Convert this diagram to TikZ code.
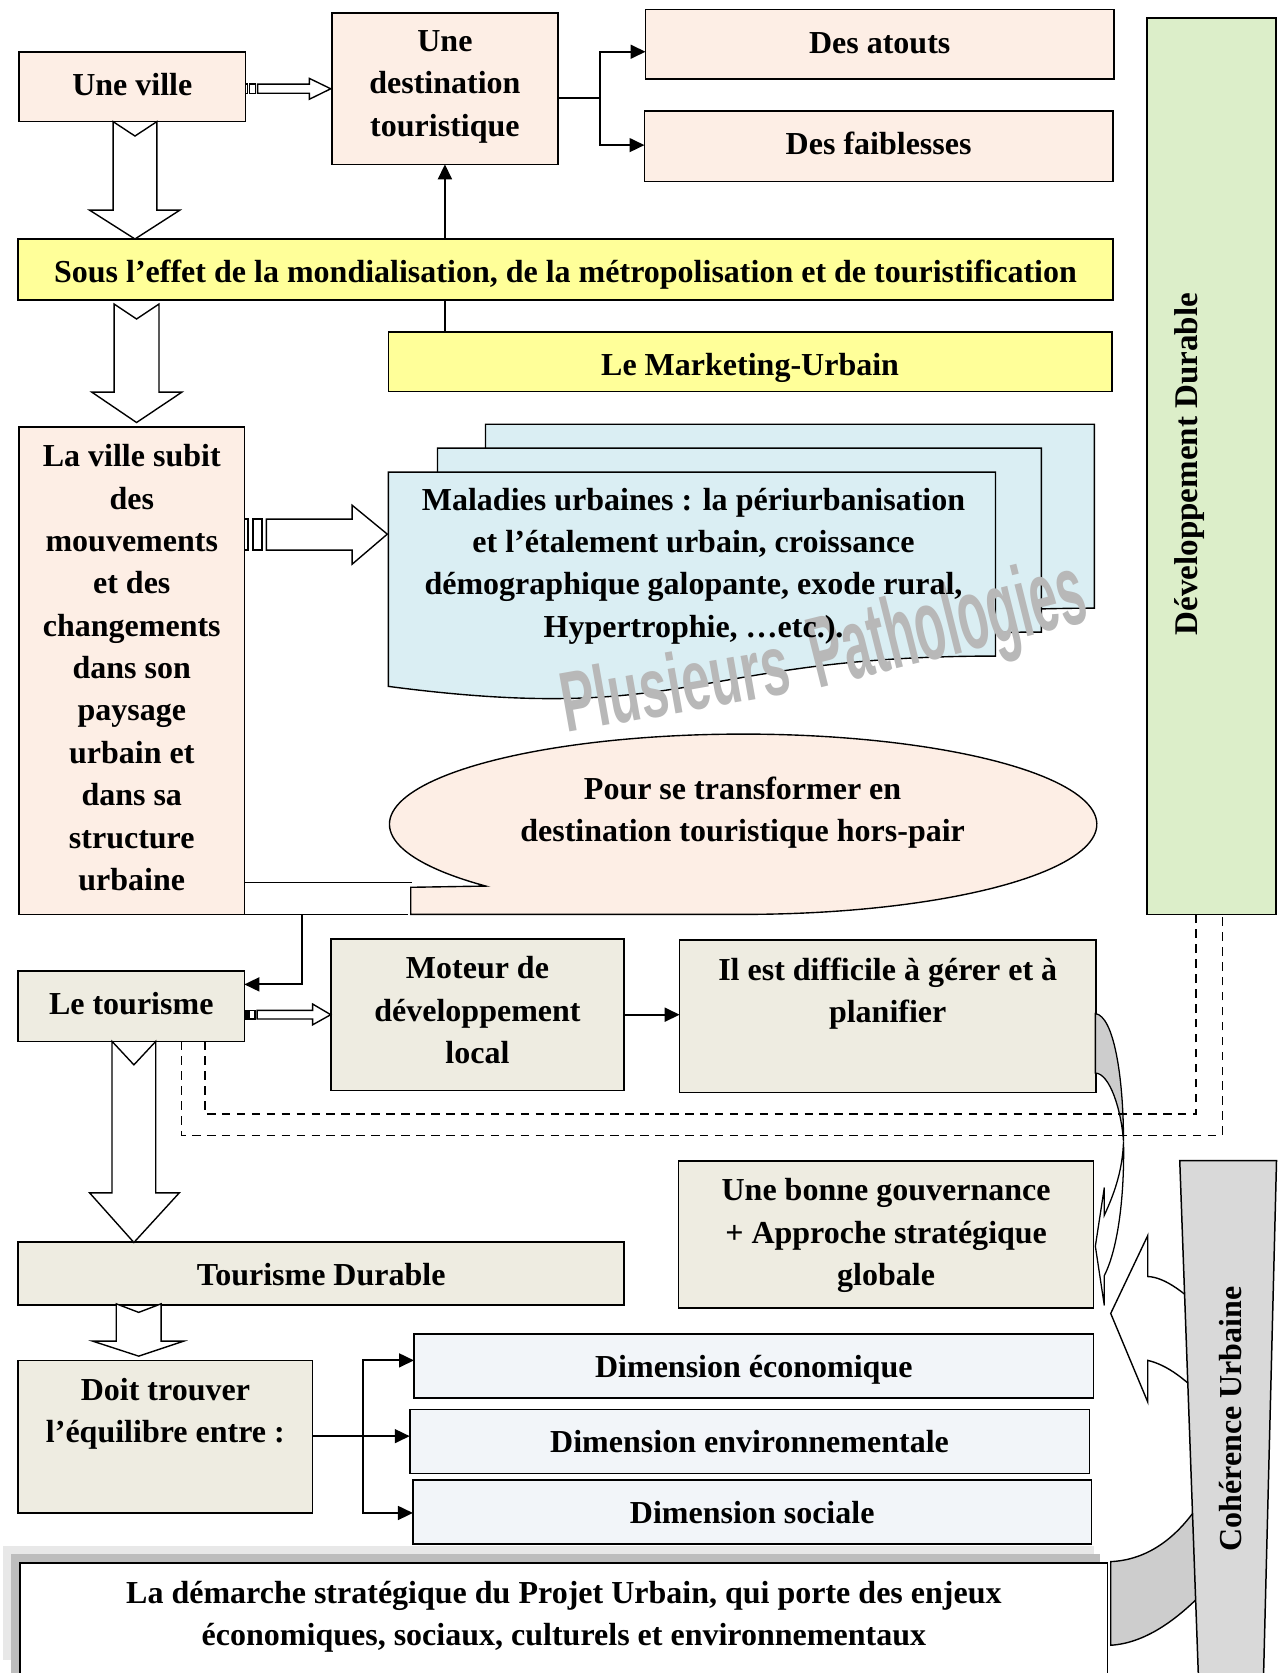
\documentclass[tikz,border=0pt]{standalone}
\usepackage{fontspec}
\setmainfont{Liberation Serif}
\newfontfamily\wmfont{Liberation Sans}
\usetikzlibrary{arrows.meta}

\definecolor{cPeach}{HTML}{FDEEE5}
\definecolor{cLemon}{HTML}{FFFF99}
\definecolor{cSage}{HTML}{DCEEC9}
\definecolor{cAqua}{HTML}{DAEEF3}
\definecolor{cTan}{HTML}{EEECE1}
\definecolor{cMist}{HTML}{F2F5F9}
\definecolor{cSilver}{HTML}{D9D9D9}
\definecolor{cShade}{HTML}{CDCDCD}

% hollow downward block arrow with a notched tail
% #1 shaft left, #2 shaft right, #3 tail top, #4 notch depth point, #5 head base,
% #6 head left, #7 head right, #8 tip, #9 axis
\newcommand\blockdown[9]{\draw[blk] (#1,#3) -- (#9,#4) -- (#2,#3) -- (#2,#5) -- (#7,#5) -- (#9,#8) -- (#6,#5) -- (#1,#5) -- cycle;}

\begin{document}
\begin{tikzpicture}[x=1pt, y=-1pt,
  font=\bfseries\fontsize{30}{39.7}\selectfont,
  box/.style={draw, line width=1.5pt, inner sep=0pt, outer sep=0pt},
  intxt/.style={anchor=north, inner sep=0pt, align=center, execute at begin node={\rule{0pt}{24pt}}},
  conn/.style={line width=1.8pt, -{Triangle[length=14pt,width=13pt]}},
  wire/.style={line width=1.8pt},
  blk/.style={draw, line width=1.3pt, fill=white},
  dline/.style={line width=1.3pt, dash pattern=on 8pt off 6pt},
  rot/.style={rotate=90, inner sep=0pt},
  wm/.style={inner sep=0pt, text=black!28, font=\wmfont\bfseries\fontsize{80}{80}\selectfont},
]
\useasboundingbox (0,0) rectangle (1202,1568);
\clip (0,0) rectangle (1202,1568);
\fill[white] (0,0) rectangle (1202,1568);

% ---- shadow behind the bottom box
\fill[black!9] (3,1449) rectangle (1025,1556);
\fill[black!26] (10,1456) rectangle (1031,1600);

% ---- large curved arrow coming out of the urban coherence band
\draw[line width=1.3pt, fill=cShade] (1041,1463.6) .. controls (1075,1462) and (1103,1442) .. (1125,1408)
  -- (1132,1488) .. controls (1102,1520) and (1072,1540) .. (1041,1542) -- cycle;
\draw[line width=1.3pt, fill=white] (1135,1236) .. controls (1112,1212) and (1092,1197) .. (1075.7,1196.4)
  -- (1075.7,1158) -- (1041,1231) -- (1075.7,1314) -- (1075.7,1275)
  .. controls (1093,1279) and (1112,1292) .. (1135,1318) -- cycle;
\draw[line width=1.4pt, fill=cSilver] (1105.7,1087.8) -- (1196.4,1087.8) -- (1184,1580) -- (1123.5,1580) -- cycle;
\node[rot] (coh) at (1153.5,1330) {Cohérence Urbaine};

% ---- boxes
\node[box, fill=cPeach, minimum width=212pt, minimum height=65pt] (ville) at (124,81.5) {};
\node[box, fill=cPeach, minimum width=212pt, minimum height=142pt] (dest) at (417,83) {};
\node[box, fill=cPeach, minimum width=439pt, minimum height=65pt] (atouts) at (824.5,41.5) {};
\node[box, fill=cPeach, minimum width=439pt, minimum height=66pt] (faibl) at (823.5,137) {};
\node[box, fill=cLemon, minimum width=1026pt, minimum height=57pt] (sous) at (530,252.5) {};
\node[box, fill=cLemon, minimum width=678pt, minimum height=56pt] (mkt) at (703,339) {};
\node[box, fill=cSage, minimum width=121pt, minimum height=840pt] (dd) at (1135.5,437) {};
\node[box, fill=cPeach, minimum width=211pt, minimum height=457pt] (lavil) at (123.5,628.5) {};
\node[box, fill=cTan, minimum width=212pt, minimum height=66pt] (tour) at (123,943) {};
\node[box, fill=cTan, minimum width=275pt, minimum height=142pt] (moteur) at (447.5,951) {};
\node[box, fill=cTan, minimum width=390pt, minimum height=143pt] (diff) at (832,952.5) {};
\node[box, fill=cTan, minimum width=389pt, minimum height=138pt] (gouv) at (830.5,1157) {};
\node[box, fill=cTan, minimum width=568pt, minimum height=59pt] (tdur) at (301,1193.5) {};
\node[box, fill=cTan, minimum width=276pt, minimum height=143pt] (doit) at (155,1346.5) {};
\node[box, fill=cMist, minimum width=637pt, minimum height=60pt] (deco) at (706.5,1280) {};
\node[box, fill=cMist, minimum width=637pt, minimum height=60pt] (denv) at (702.5,1351) {};
\node[box, fill=cMist, minimum width=636pt, minimum height=60pt] (dsoc) at (705,1417) {};
\node[box, fill=white, minimum width=1019pt, minimum height=135pt] (dem) at (528.5,1532.5) {};

% ---- stack of documents
\draw[line width=1.3pt, fill=cAqua] (455,397.6) -- (1025.7,397.6) -- (1025.7,570)
  .. controls (740.4,570) and (740.4,635.7) .. (455,598.4) -- cycle;
\draw[line width=1.3pt, fill=cAqua] (410,420) -- (976,420) -- (976,592.4)
  .. controls (693,592.4) and (693,658.1) .. (410,620.8) -- cycle;
\draw[line width=1.3pt, fill=cAqua] (364,442.5) -- (933,442.5) -- (933,614.9)
  .. controls (648.5,614.9) and (648.5,680.6) .. (364,643.3) -- cycle;
\node[wm, rotate=10] (wm1) at (632,640) {\scalebox{0.6}[1]{Plusieurs}};
\node[wm, rotate=14] (wm2) at (889,590) {\scalebox{0.58}[1.18]{Pathologies}};

% ---- speech bubble
\draw[line width=1.3pt, fill=cPeach] plot[domain=136.7:450, samples=160, variable=\t]
  ({696.5+331.5*cos(\t)},{772.5+84.5*sin(\t)}) -- (385,857) -- (385,831.6) -- cycle;
\coordinate (tipB) at (382,857);
\coordinate (tipT) at (386,827);

% ---- curved arrow from the management box to the governance box
\draw[line width=1.2pt, fill=cShade] (1026.6,950) .. controls (1044,952) and (1053,1010) .. (1053,1070)
  .. controls (1051,1040) and (1040,1006) .. (1026.6,1005.7) -- cycle;
\draw[line width=1.2pt, fill=white] (1053,1070) .. controls (1054,1120) and (1048,1170) .. (1035,1195.5)
  -- (1035,1223.5) -- (1026.6,1168) -- (1035,1113) -- (1035,1139)
  .. controls (1046,1115) and (1052,1095) .. (1053,1070) -- cycle;

% ---- dashed links from tourism to sustainable development
\coordinate (tA) at (192,976);
\coordinate (tB) at (170,976);
\coordinate (dA) at (1121,857);
\coordinate (dB) at (1145.6,857);
\coordinate (yA) at (0,1044);
\coordinate (yB) at (0,1064);
\draw[dline] (tA) -- (tA |- yA) -- (dA |- yA) -- (dA);
\draw[dline] (tB) -- (tB |- yB) -- (dB |- yB) -- (dB);

% ---- solid connectors
\coordinate (j1) at (562,91.6);
\coordinate (aIn) at (605,48.5);
\coordinate (fIn) at (604,136);
\draw[wire] (dest.east |- j1) -- (j1);
\draw[conn] (j1) |- (aIn);
\draw[conn] (j1) |- (fIn);
\draw[conn] (sous.north -| dest.south) -- (dest.south);
\draw[wire] (mkt.north -| dest.south) -- (sous.south -| dest.south);

\draw[line width=1.5pt] (lavil.south east) -- (tipB);
\draw[line width=1.5pt] ([yshift=30pt]lavil.south east) -- (tipT);
\coordinate (elb) at (283,857);
\draw[conn] (elb) |- ([yshift=20.4pt]tour.east);
\draw[conn] (moteur.east) -- (diff.west |- moteur.east);

\coordinate (j2) at (340,1346);
\coordinate (ecoIn) at (388,1275);
\coordinate (socIn) at (387,1418);
\draw[wire] (doit.east |- j2) -- (j2);
\draw[conn] (j2) -- (denv.west |- j2);
\draw[conn] (j2) |- (ecoIn);
\draw[conn] (j2) |- (socIn);

% ---- striped block arrows
\draw[blk] (230,78.9) rectangle (232,87.4);
\draw[blk] (234,78.9) rectangle (239.5,87.4);
\draw[blk] (241.5,78.9) -- (290,78.9) -- (290,73.5) -- (310,83.2) -- (290,93) -- (290,87.4) -- (241.5,87.4) -- cycle;

\draw[blk] (229,486.6) rectangle (232.5,515.6);
\draw[blk] (237,486.6) rectangle (245.6,515.6);
\draw[blk] (249.6,486.6) -- (330,486.6) -- (330,473.5) -- (363,500.6) -- (330,528.8) -- (330,515.6) -- (249.6,515.6) -- cycle;

\draw[blk] (229.5,947) rectangle (231.5,955);
\draw[blk] (233.5,947) rectangle (239,955);
\draw[blk] (241,947) -- (293,947) -- (293,941) -- (310,951) -- (293,960.5) -- (293,955) -- (241,955) -- cycle;

% ---- hollow down arrows
\blockdown{106}{147}{114}{127.5}{197}{84}{168.5}{224}{126.5}
\blockdown{107}{149}{285}{299}{367.5}{86}{170.5}{396}{128}
\blockdown{105}{146}{976}{998}{1118}{84}{168}{1164.5}{125.5}
\blockdown{109}{151}{1222}{1230}{1257}{87}{172}{1271}{130}

% ---- texts
\tikzset{tshift/.style={yshift=-16.5pt}}
\node[intxt] (villeT) at ([tshift]ville.north) {Une ville};
\node[intxt] (destT) at ([tshift]dest.north) {Une\\destination\\touristique};
\node[intxt] (atoutsT) at ([tshift]atouts.north) {Des atouts};
\node[intxt] (faiblT) at ([tshift]faibl.north) {Des faiblesses};
\node[intxt] (sousT) at ([tshift]sous.north) {Sous l’effet de la mondialisation, de la métropolisation et de touristification};
\node[intxt] (mktT) at ([tshift]mkt.north) {Le Marketing-Urbain};
\node[rot] (ddT) at (1115,435) {\fontsize{31}{39.7}\selectfont Développement Durable};
\node[intxt] (lavilT) at ([tshift]lavil.north) {La ville subit\\des\\mouvements\\et des\\changements\\dans son\\paysage\\urbain et\\dans sa\\structure\\urbaine};
\node[intxt] (docT) at (650,457) {Maladies urbaines : la périurbanisation\\et l’étalement urbain, croissance\\démographique galopante, exode rural,\\Hypertrophie, …etc.).};
\node[intxt] (bubT) at (696,728) {Pour se transformer en\\destination touristique hors-pair};
\node[intxt] (tourT) at ([tshift]tour.north) {Le tourisme};
\node[intxt] (moteurT) at ([tshift]moteur.north) {Moteur de\\développement\\local};
\node[intxt] (diffT) at ([tshift]diff.north) {Il est difficile à gérer et à\\planifier};
\node[intxt] (gouvT) at ([tshift]gouv.north) {Une bonne gouvernance\\+ Approche stratégique\\globale};
\node[intxt] (tdurT) at ([tshift]tdur.north) {Tourisme Durable};
\node[intxt] (doitT) at ([tshift]doit.north) {Doit trouver\\l’équilibre entre :};
\node[intxt] (decoT) at ([tshift]deco.north) {Dimension économique};
\node[intxt] (denvT) at ([tshift]denv.north) {Dimension environnementale};
\node[intxt] (dsocT) at ([tshift]dsoc.north) {Dimension sociale};
\node[intxt] (demT) at ([tshift]dem.north) {La démarche stratégique du Projet Urbain, qui porte des enjeux\\économiques, sociaux, culturels et environnementaux};
\end{tikzpicture}
\end{document}
